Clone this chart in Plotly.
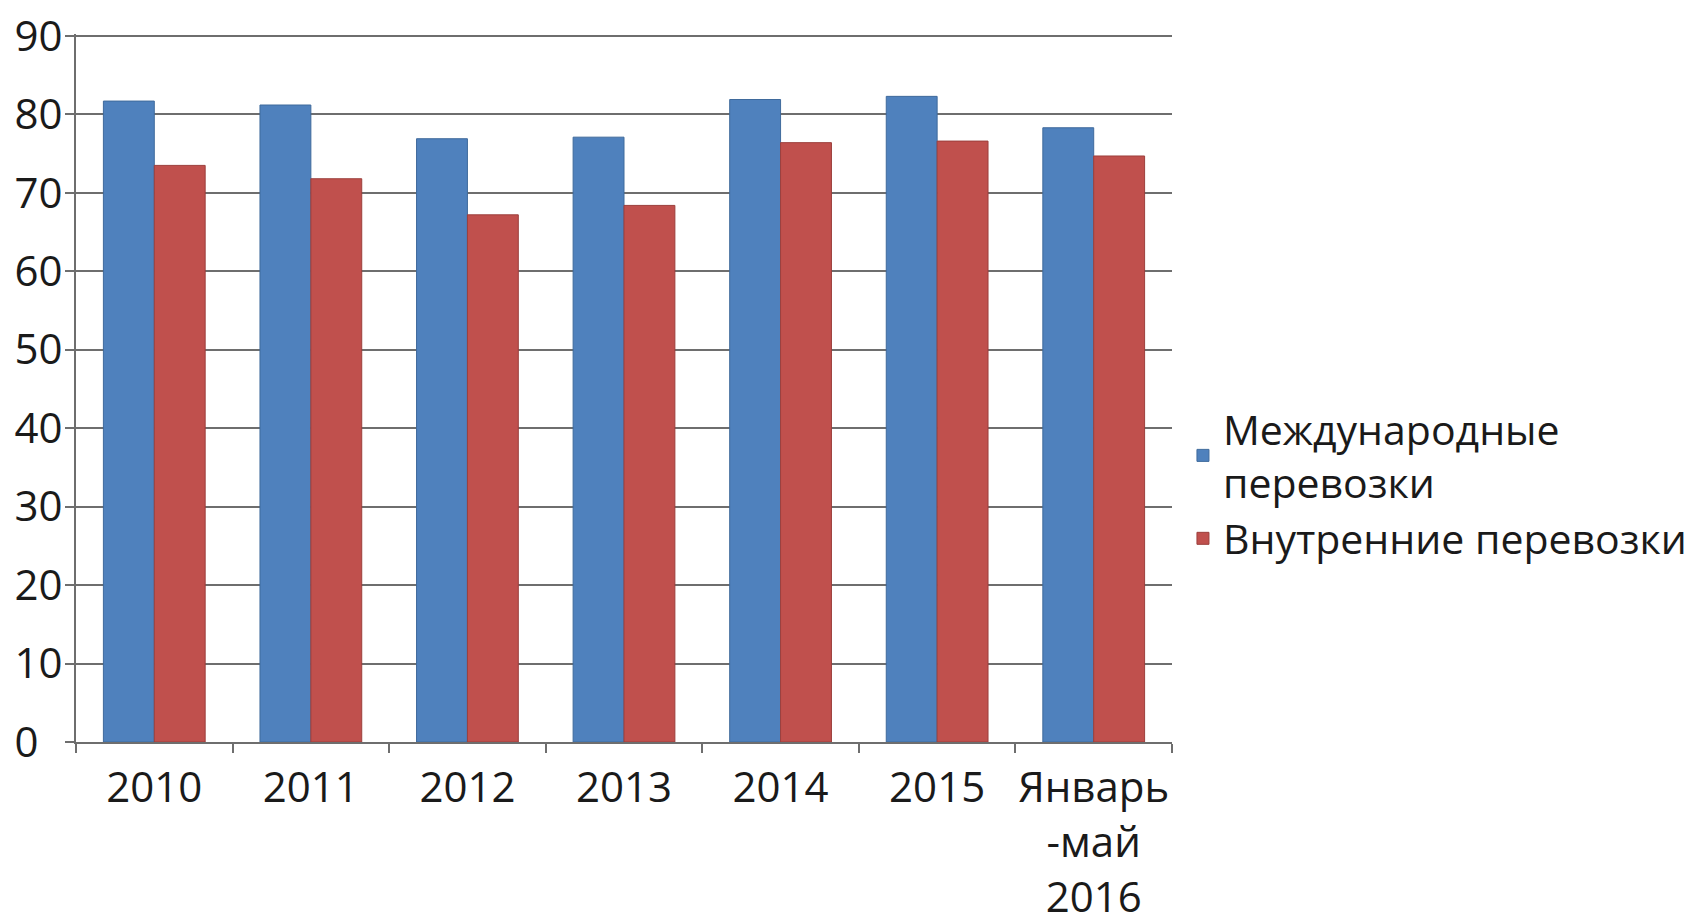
import plotly.graph_objects as go

categories = ["2010", "2011", "2012", "2013", "2014", "2015", "Январь<br>-май<br>2016"]
international = [81.7, 81.2, 76.9, 77.1, 81.9, 82.3, 78.3]
domestic = [73.5, 71.8, 67.2, 68.4, 76.4, 76.6, 74.7]
series_names = ["Международные<br>перевозки", "Внутренние перевозки"]
y_ticks = [0, 10, 20, 30, 40, 50, 60, 70, 80, 90]
y_tick_labels = ["0\u2007", "10", "20", "30", "40", "50", "60", "70", "80", "90"]

fig = go.Figure()
fig.add_trace(go.Bar(x=categories, y=international, name=series_names[0],
                     marker=dict(color="#4F81BD", line=dict(color="#3f6a9c", width=1))))
fig.add_trace(go.Bar(x=categories, y=domestic, name=series_names[1],
                     marker=dict(color="#C0504D", line=dict(color="#9c3f3c", width=1))))

grid = "#6e6e6e"
fig.update_layout(
    width=1686, height=915,
    margin=dict(l=68, r=522, t=26, b=181, autoexpand=False),
    paper_bgcolor="white", plot_bgcolor="white",
    barmode="group", bargap=0.35, bargroupgap=0,
    font=dict(family="Open Sans, DejaVu Sans, sans-serif", size=42, color="#1a1a1a"),
    showlegend=True,
    legend=dict(x=1.010, xanchor="left", y=0.365, yanchor="middle",
                font=dict(size=41, color="#1a1a1a"), itemwidth=30,
                bgcolor="rgba(0,0,0,0)", traceorder="normal", tracegroupgap=2),
    xaxis=dict(type="category", showgrid=False, showline=True, linecolor=grid, linewidth=2,
               ticks="outside", tickson="boundaries", ticklen=9, tickcolor=grid, tickwidth=2,
               tickfont=dict(size=42), tickangle=0, ticklabelstandoff=8,
               fixedrange=True, automargin=False),
    yaxis=dict(range=[0, 90.25], tickvals=y_ticks, ticktext=y_tick_labels,
               showgrid=True, gridcolor=grid, gridwidth=2,
               showline=True, linecolor=grid, linewidth=2, ticks="outside", ticklen=9,
               tickcolor=grid, tickwidth=2, zeroline=False, tickfont=dict(size=42),
               ticklabelstandoff=-6, ticklabeloverflow="allow",
               fixedrange=True, automargin=False),
)

fig.write_html("out.html")
